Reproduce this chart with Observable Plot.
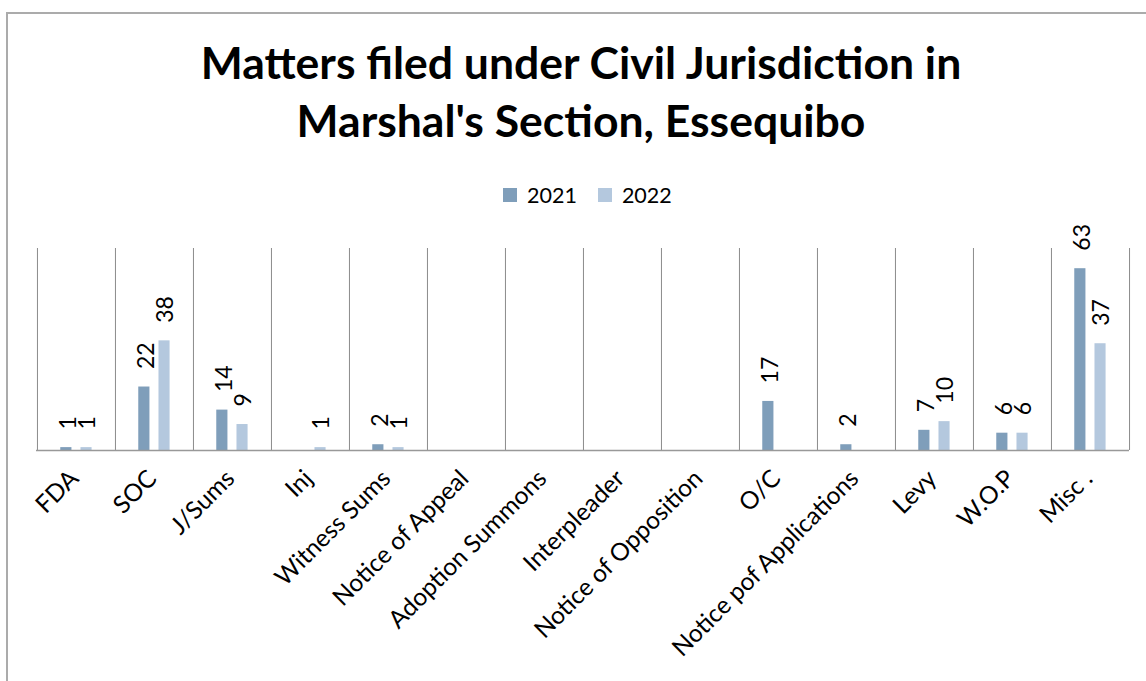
<!DOCTYPE html>
<html><head><meta charset="utf-8">
<script src="https://cdn.jsdelivr.net/npm/d3@7"></script>
<script src="https://cdn.jsdelivr.net/npm/@observablehq/plot@0.6"></script>
<style>
html,body{margin:0;padding:0;background:#fff;}
#page{position:relative;width:1146px;height:681px;overflow:hidden;font-family:Lato,"Open Sans",sans-serif;color:#000;}
#border{position:absolute;left:6px;top:12px;width:1300px;height:800px;border-top:2px solid #ababab;border-left:2px solid #ababab;}
#title{position:absolute;left:0;width:1162px;top:33px;text-align:center;font-weight:700;font-size:44.5px;line-height:58px;}
#legend{position:absolute;left:503px;top:181px;height:28px;display:flex;align-items:center;font-size:21.5px;}
#legend .sw{width:14px;height:14px;display:inline-block;margin-right:10px;}
#legend .lab{margin-right:21px;}
#chart{position:absolute;left:0;top:0;}
</style>
</head><body>
<div id="page">
  <div id="border"></div>
  <div id="chart"></div>
  <div id="title">Matters filed under Civil Jurisdiction in<br>Marshal's Section, Essequibo</div>
  <div id="legend"></div>
</div>
<script>
const categories = ["FDA","SOC","J/Sums","Inj","Witness Sums","Notice of Appeal","Adoption Summons","Interpleader","Notice of Opposition","O/C","Notice pof Applications","Levy","W.O.P","Misc ."];
const years = ["2021","2022"];
const values2021 = [1,22,14,0,2,0,0,0,0,17,2,7,6,63];
const values2022 = [1,38,9,1,1,0,0,0,0,0,0,10,6,37];
const colors = ["#7f9eba","#b4c8de"];

const rows = categories.flatMap((c,i)=>[
  {category:c, year:years[0], value:values2021[i]},
  {category:c, year:years[1], value:values2022[i]}
]);

// legend
const leg = document.getElementById("legend");
years.forEach((y,i)=>{
  const s=document.createElement("span");s.className="sw";s.style.background=colors[i];leg.appendChild(s);
  const t=document.createElement("span");t.className="lab";t.textContent=y;leg.appendChild(t);
});

const W=1146,H=681,mL=36,mR=17,mT=248,mB=231;
const bw=(W-mL-mR)/categories.length;
const valueFont='Lato,sans-serif';
const r21=rows.filter(d=>d.year===years[0]&&d.value>0);
const r22=rows.filter(d=>d.year===years[1]&&d.value>0);

const chart = Plot.plot({
  width:W,height:H,marginLeft:mL,marginRight:mR,marginTop:mT,marginBottom:mB,
  x:{domain:categories,padding:0,label:null},
  y:{domain:[0,70],axis:null},
  color:{domain:years,range:colors},
  style:{fontFamily:"Lato, 'Open Sans', sans-serif",background:"transparent",color:"#000"},
  marks:[
    Plot.ruleX(categories,{x:d=>d,dx:-bw/2,stroke:"#8c8c8c",strokeWidth:1}),
    Plot.ruleX(categories.slice(-1),{x:d=>d,dx:bw/2,stroke:"#8c8c8c",strokeWidth:1}),
    Plot.barY(r21,{x:"category",y:"value",fill:"year",insetLeft:bw*0.298,insetRight:bw*0.558}),
    Plot.barY(r22,{x:"category",y:"value",fill:"year",insetLeft:bw*0.557,insetRight:bw*0.300}),
    Plot.ruleY([0],{stroke:"#999",strokeWidth:1.5}),
    Plot.text(r21,{x:"category",y:"value",text:d=>String(d.value),rotate:-90,textAnchor:"start",dx:-8,dy:-18,fontSize:23,fontFamily:valueFont,fill:"#000"}),
    Plot.text(r22,{x:"category",y:"value",text:d=>String(d.value),rotate:-90,textAnchor:"start",dx:11,dy:-18,fontSize:23,fontFamily:valueFont,fill:"#000"}),
    Plot.axisX({tickRotate:-45,tickSize:0,tickPadding:24,dx:-2,fontSize:24.5,label:null,fill:"#000"})
  ]
});
document.getElementById("chart").appendChild(chart);
</script>
</body></html>
